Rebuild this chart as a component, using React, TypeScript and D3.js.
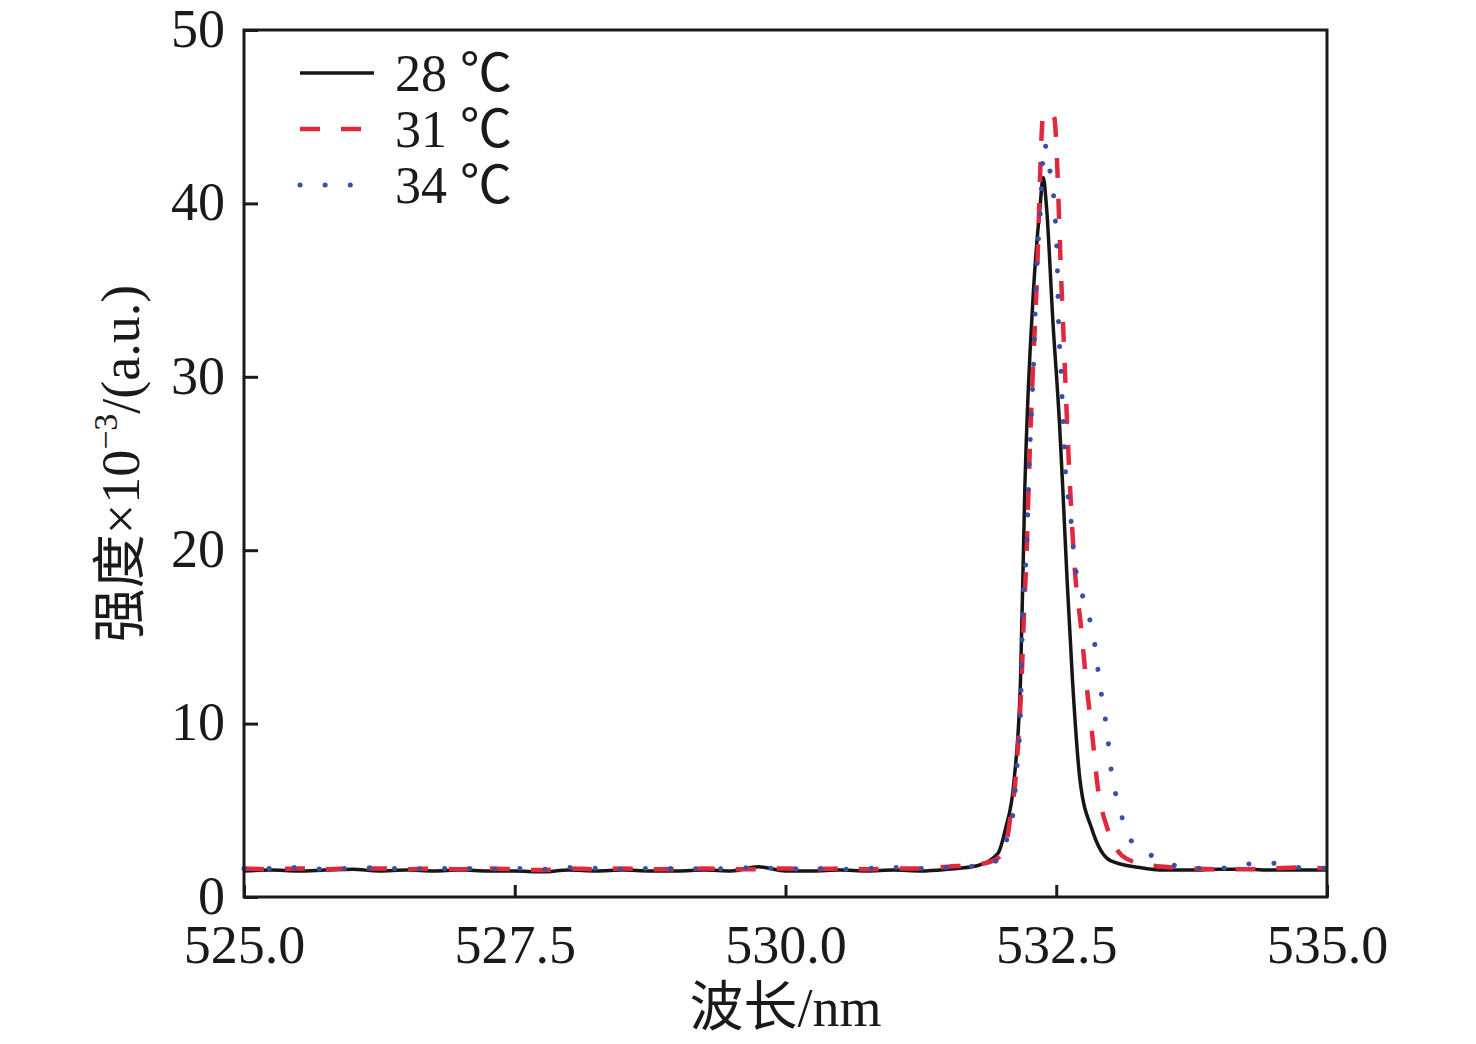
import { useRef, useEffect } from "react";
import * as d3 from "d3";

// baseline sampling (nm) shared by the flat part of the three spectra
const baseWl = [525.0, 525.25, 525.5, 525.75, 526.0, 526.25, 526.5, 526.75, 527.0, 527.25, 527.5, 527.75, 528.0, 528.25, 528.5, 528.75, 529.0, 529.25, 529.5, 529.75, 530.0, 530.25, 530.5, 530.75, 531.0, 531.25, 531.5];

// 28 ℃
const wl28 = [...baseWl, 531.77, 531.96, 532.03, 532.11, 532.17, 532.21, 532.29, 532.35, 532.38, 532.41, 532.47, 532.53, 532.56, 532.6, 532.65, 532.72, 532.83, 533.0, 533.27, 533.5, 533.75, 534.0, 534.25, 534.5, 534.75, 535.0];
const int28 = [1.5, 1.55, 1.5, 1.55, 1.6, 1.5, 1.55, 1.5, 1.55, 1.5, 1.5, 1.45, 1.55, 1.5, 1.55, 1.5, 1.5, 1.55, 1.5, 1.75, 1.5, 1.5, 1.55, 1.5, 1.55, 1.5, 1.6,
  1.8, 2.5, 3.9, 6.7, 12.5, 23.6, 35.0, 39.8, 41.5, 39.8, 33.1, 27.3, 23.6, 18.3, 12.5, 6.7, 3.9, 2.1, 1.7,
  1.55, 1.55, 1.6, 1.6, 1.55, 1.55, 1.55];

// 31 ℃
const wl31 = [...baseWl, 531.8, 531.95, 532.05, 532.08, 532.12, 532.15, 532.18, 532.2, 532.23, 532.25, 532.32, 532.38, 532.43, 532.48, 532.55, 532.62, 532.67, 532.73, 532.78, 532.83, 532.88, 532.97, 533.15, 533.4, 533.6, 533.75, 534.0, 534.25, 534.5, 534.75, 535.0];
const int31 = [1.65, 1.6, 1.65, 1.6, 1.65, 1.65, 1.6, 1.65, 1.6, 1.65, 1.6, 1.55, 1.65, 1.6, 1.65, 1.6, 1.6, 1.65, 1.6, 1.6, 1.65, 1.6, 1.65, 1.6, 1.65, 1.65, 1.75,
  1.9, 2.2, 3.5, 4.8, 6.5, 9.0, 12.5, 16.0, 20.5, 24.7, 35.5, 45.1, 45.3, 45.0, 35.0, 24.6, 19.0, 15.5, 12.2, 9.5, 6.5, 4.0, 2.2, 1.8, 1.7,
  1.65, 1.6, 1.6, 1.65, 1.7, 1.65];

// 34 ℃
const wl34 = [...baseWl, 531.77, 531.98, 532.05, 532.1, 532.14, 532.17, 532.19, 532.23, 532.25, 532.27, 532.29, 532.32, 532.35, 532.39, 532.43, 532.47, 532.49, 532.51, 532.52, 532.54, 532.56, 532.58, 532.6, 532.63, 532.67, 532.72, 532.78, 532.84, 532.9, 532.97, 533.02, 533.08, 533.13, 533.23, 533.46, 533.67, 533.9, 534.1, 534.35, 534.55, 534.75, 535.0];
const int34 = [1.65, 1.65, 1.7, 1.6, 1.65, 1.7, 1.6, 1.65, 1.65, 1.6, 1.65, 1.6, 1.7, 1.65, 1.6, 1.65, 1.65, 1.6, 1.65, 1.7, 1.6, 1.65, 1.6, 1.65, 1.7, 1.65, 1.7,
  1.8, 2.2, 3.5, 4.8, 7.7, 10.6, 16.4, 20.6, 24.8, 27.7, 30.6, 36.3, 39.2, 43.5, 42.2, 40.8, 39.2, 36.4, 33.4, 30.8, 27.9, 25.0, 23.6, 22.1, 19.3, 17.9, 16.6, 15.2, 12.4, 9.5, 6.7, 5.4, 4.0, 3.0, 2.2, 1.7,
  1.65, 1.7, 1.95, 1.95, 1.7, 1.65];

const xTicks = [525.0, 527.5, 530.0, 532.5, 535.0];
const yTicks = [0, 10, 20, 30, 40, 50];
const seriesNames = ["28 ℃", "31 ℃", "34 ℃"];

export default function App() {
  const ref = useRef<SVGSVGElement>(null);

  useEffect(() => {
    document.body.style.margin = "0";
    if (!ref.current) return;

    const width = 1476;
    const height = 1044;
    const marginLeft = 244;
    const marginRight = 149;
    const marginTop = 30;
    const marginBottom = 147;
    const font = "'Liberation Serif', 'Times New Roman', 'Noto Sans CJK SC', serif";

    const x = d3.scaleLinear().domain([525, 535]).range([marginLeft, width - marginRight]);
    const y = d3.scaleLinear().domain([0, 50]).range([height - marginBottom, marginTop]);

    const svg = d3.select(ref.current);
    svg.selectAll("*").remove();
    svg.attr("width", width).attr("height", height).style("background", "#fff");

    const series = [
      { wl: wl28, v: int28, color: "#161616", width: 3.5, dash: null as string | null, cap: "butt" },
      { wl: wl31, v: int31, color: "#e1283c", width: 4.5, dash: "20,21", cap: "butt" },
      { wl: wl34, v: int34, color: "#3b4ea8", width: 5, dash: "0.1,25", cap: "round" },
    ];

    series.forEach((s) => {
      const pts = s.wl.map((w, i) => [w, s.v[i]] as [number, number]);
      const gen = d3.line<[number, number]>()
        .x((d) => x(d[0]))
        .y((d) => y(d[1]))
        .curve(d3.curveMonotoneX);
      const p = svg.append("path")
        .attr("d", gen(pts))
        .attr("fill", "none")
        .attr("stroke", s.color)
        .attr("stroke-width", s.width)
        .attr("stroke-linejoin", "round")
        .attr("stroke-linecap", s.cap);
      if (s.dash) p.attr("stroke-dasharray", s.dash);
    });

    // frame
    svg.append("rect")
      .attr("x", marginLeft).attr("y", marginTop)
      .attr("width", width - marginRight - marginLeft)
      .attr("height", height - marginBottom - marginTop)
      .attr("fill", "none").attr("stroke", "#1a1a1a").attr("stroke-width", 3);

    // x-axis (ticks inward)
    const gx = svg.append("g")
      .attr("transform", `translate(0,${height - marginBottom})`)
      .call(d3.axisBottom(x).tickValues(xTicks).tickSizeInner(-12).tickSizeOuter(0).tickPadding(28).tickFormat(d3.format(".1f")));
    gx.select(".domain").remove();
    gx.selectAll("line").attr("stroke", "#1a1a1a").attr("stroke-width", 3);
    gx.selectAll("text").attr("font-family", font).attr("font-size", 54).attr("fill", "#1a1a1a").attr("dy", "0.71em");

    // y-axis (ticks inward)
    const gy = svg.append("g")
      .attr("transform", `translate(${marginLeft},0)`)
      .call(d3.axisLeft(y).tickValues(yTicks).tickSizeInner(-14).tickSizeOuter(0).tickPadding(19).tickFormat(d3.format("d")));
    gy.select(".domain").remove();
    gy.selectAll("line").attr("stroke", "#1a1a1a").attr("stroke-width", 3);
    gy.selectAll("text").attr("font-family", font).attr("font-size", 54).attr("fill", "#1a1a1a").attr("dy", "0.3em");

    // axis titles
    svg.append("text")
      .attr("x", x(530)).attr("y", 1026)
      .attr("text-anchor", "middle")
      .attr("font-family", font).attr("font-size", 54).attr("fill", "#1a1a1a")
      .text("波长/nm");

    const yt = svg.append("text")
      .attr("transform", `translate(139,${(marginTop + height - marginBottom) / 2}) rotate(-90)`)
      .attr("text-anchor", "middle")
      .attr("font-family", font).attr("font-size", 54).attr("fill", "#1a1a1a");
    yt.append("tspan").text("强度×10");
    yt.append("tspan").attr("font-size", 34).attr("dy", -22).text("−3");
    yt.append("tspan").attr("dy", 22).text("/(a.u.)");

    // legend
    const legend = svg.append("g");
    series.forEach((s, i) => {
      const ly = 73 + i * 56;
      const l = legend.append("line")
        .attr("x1", 300).attr("x2", i === 1 ? 362 : i === 2 ? 352 : 374)
        .attr("y1", ly).attr("y2", ly)
        .attr("stroke", s.color).attr("stroke-width", s.width)
        .attr("stroke-linecap", s.cap);
      if (s.dash) l.attr("stroke-dasharray", s.dash);
      legend.append("text")
        .attr("x", 395).attr("y", ly + 18)
        .attr("font-family", font).attr("font-size", 52).attr("fill", "#1a1a1a")
        .text(seriesNames[i]);
    });
  });

  return <svg ref={ref} style={{ display: "block" }}></svg>;
}
